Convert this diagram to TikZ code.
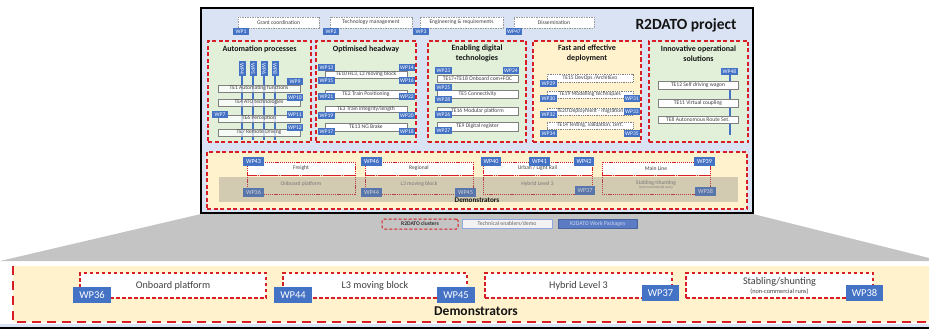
\documentclass[tikz,border=0pt]{standalone}
\usepackage{fontspec}
\setmainfont{Carlito}
\definecolor{mainblue}{RGB}{218,227,243}
\definecolor{cgreen}{RGB}{226,240,217}
\definecolor{cream}{RGB}{255,242,204}
\definecolor{dred}{RGB}{214,30,36}
\definecolor{wpblue}{RGB}{68,114,196}
\definecolor{tegray}{RGB}{127,127,127}
\definecolor{tetext}{RGB}{64,64,64}
\definecolor{bggray}{RGB}{196,196,196}
\definecolor{legfill}{RGB}{242,242,242}
\definecolor{legdraw}{RGB}{143,170,220}
\definecolor{legwp}{RGB}{91,124,196}
\definecolor{legwptext}{RGB}{200,213,238}
\definecolor{titletext}{RGB}{20,20,20}
\newcommand\mybx[7]{\node[#2, minimum width={(#5)-(#3)}, minimum height={(#6)-(#4)}] (#1) at ({((#3)+(#5))/2},{((#4)+(#6))/2}) {#7};}
\tikzset{
  mainbox/.style={fill=mainblue, draw=black, line width=1.6pt, inner sep=0pt},
  wp/.style={fill=wpblue, text=white, inner sep=0pt, font=\fontsize{5.6}{5.6}\selectfont},
  wpb/.style={wp, font=\fontsize{6.2}{6.2}\selectfont},
  wpl/.style={wp, font=\fontsize{10.5}{10.5}\selectfont},
  te/.style={fill=white, draw=tegray, line width=0.6pt, inner sep=0pt, text=tetext, font=\fontsize{5.6}{5.6}\selectfont},
  tetr/.style={te, fill opacity=0.75, text opacity=1},
  tedot/.style={te, dash pattern=on 1pt off 0.8pt},
  topwp/.style={te, draw=tegray!80, dash pattern=on 1.5pt off 1pt},
  cluster/.style={draw=dred, line width=1.3pt, dash pattern=on 4pt off 2.5pt, inner sep=0pt},
  ctitle/.style={font=\bfseries\fontsize{8}{9.5}\selectfont, align=center, text=titletext},
  bar/.style={draw=wpblue, line width=2pt},
  colw/.style={fill=white, draw=dred, line width=0.6pt, dash pattern=on 1.2pt off 0.9pt, inner sep=0pt, text=tetext, font=\fontsize{5.6}{5.6}\selectfont},
  colg/.style={colw, fill=none, text=black!55},
  low/.style={fill=white, draw=dred, line width=1.1pt, dash pattern=on 3.5pt off 2.5pt, inner sep=0pt, text=tetext, font=\fontsize{10.2}{10.2}\selectfont, align=center},
}
\begin{document}
\begin{tikzpicture}[x=1pt,y=-1pt]
\useasboundingbox (0,0) rectangle (929,329);
% grey zoom trapezoid
\path[fill=bggray] (201,214) -- (753,214) -- (929,258) -- (929,261) -- (0,261) -- cycle;
% main project box
\mybx{main}{mainbox}{201}{8}{753}{213}{}
\node[font=\bfseries\fontsize{15.5}{15.5}\selectfont, text=titletext] (title) at (686,25) {R2DATO project};
% top row work packages
\mybx{g1}{topwp}{238}{17}{319}{28}{Grant coordination}
\mybx{g2}{topwp}{330}{17}{412}{28}{Technology management}
\mybx{g3}{topwp}{420}{17}{503}{28}{Engineering \& requirements}
\mybx{g4}{topwp}{514}{17}{594}{28}{Dissemination}
\mybx{wp1}{wp}{233}{28}{249}{35}{WP1}
\mybx{wp2}{wp}{323}{28}{339}{35}{WP2}
\mybx{wp3}{wp}{413}{28}{429}{35}{WP3}
\mybx{wp47}{wp}{506}{28}{522}{35}{WP47}
% clusters
\mybx{c1}{cluster, fill=cgreen}{208}{41}{311}{142}{}
\mybx{c2}{cluster, fill=cgreen}{316}{41}{416}{142}{}
\mybx{c3}{cluster, fill=cgreen}{428}{41}{526}{142}{}
\mybx{c4}{cluster, fill=cream}{533}{41}{641}{142}{}
\mybx{c5}{cluster, fill=cgreen}{649}{41}{748}{142}{}
\node[ctitle] (t1) at (259.5,49) {Automation processes};
\node[ctitle] (t2) at (366,49) {Optimised headway};
\node[ctitle] (t3) at (477,53.5) {Enabling digital\\technologies};
\node[ctitle] (t4) at (587,53.5) {Fast and effective\\deployment};
\node[ctitle] (t5) at (698.5,53.5) {Innovative operational\\solutions};
% automation processes
\coordinate (abot) at (259,140);
\node[wp, rotate=-90, minimum width=15, minimum height=7] (wp4) at (242,68.5) {WP4};
\node[wp, rotate=-90, minimum width=15, minimum height=7] (wp5) at (253,68.5) {WP5};
\node[wp, rotate=-90, minimum width=15, minimum height=7] (wp6) at (264,68.5) {WP6};
\node[wp, rotate=-90, minimum width=15, minimum height=7] (wp8) at (275,68.5) {WP8};
\draw[bar] (wp4.east) -- (wp4.east |- abot);
\draw[bar] (wp5.east) -- (wp5.east |- abot);
\draw[bar] (wp6.east) -- (wp6.east |- abot);
\draw[bar] (wp8.east) -- (wp8.east |- abot);
\mybx{te1}{tetr}{218}{85}{300}{92}{TE1 Automating functions}
\mybx{te4}{tetr}{218}{99}{300}{106}{TE4 ATO technologies}
\mybx{te6}{tetr}{218}{115}{300}{122}{TE6 Perception}
\mybx{te7}{tetr}{218}{129}{300}{136}{TE7 Remote Driving}
\mybx{wp9}{wp}{287}{78}{303}{85}{WP9}
\mybx{wp10}{wp}{287}{94}{303}{101}{WP10}
\mybx{wp11}{wp}{287}{111}{303}{118}{WP11}
\mybx{wp12}{wp}{287}{124}{303}{131}{WP12}
\mybx{wp7}{wp}{212}{111}{228}{118}{WP7}
% optimised headway
\mybx{te10}{te}{325}{71}{407}{78}{TE10 HL3, L3 moving block}
\mybx{te2}{te}{325}{90}{407}{98}{TE2 Train Positioning}
\mybx{te3}{te}{325}{106}{407}{112}{TE3 Train integrity/length}
\mybx{te13}{te}{325}{123}{407}{131}{TE13 NG Brake}
\mybx{wp13}{wp}{318}{64}{335}{71}{WP13}
\mybx{wp14}{wp}{399}{64}{415}{71}{WP14}
\mybx{wp15}{wp}{318}{77}{335}{84}{WP15}
\mybx{wp16}{wp}{399}{77}{415}{84}{WP16}
\mybx{wp21}{wp}{318}{93}{335}{100}{WP21}
\mybx{wp22}{wp}{399}{93}{415}{100}{WP22}
\mybx{wp19}{wp}{318}{112}{335}{119}{WP19}
\mybx{wp20}{wp}{399}{112}{415}{119}{WP20}
\mybx{wp17}{wp}{318}{128}{335}{135}{WP17}
\mybx{wp18}{wp}{399}{128}{415}{135}{WP18}
% enabling digital technologies
\mybx{te17}{te}{437}{75}{518}{82}{TE17+TE18 Onboard com+FOC}
\mybx{te5}{te}{437}{90}{518}{98}{TE5 Connectivity}
\mybx{te16}{te}{437}{107}{518}{115}{TE16 Modular platform}
\mybx{te9}{te}{437}{122}{518}{131}{TE9 Digital register}
\mybx{wp23}{wp}{435}{67}{452}{74}{WP23}
\mybx{wp24}{wp}{503}{67}{519}{74}{WP24}
\mybx{wp25}{wp}{435}{84}{452}{91}{WP25}
\mybx{wp28}{wp}{435}{96}{452}{103}{WP28}
\mybx{wp26}{wp}{435}{111}{452}{118}{WP26}
\mybx{wp27}{wp}{435}{127}{452}{134}{WP27}
% fast and effective deployment
\mybx{te15}{tedot}{547}{74}{633}{82}{TE15 DevOps /ArchitEvo}
\mybx{te19}{tedot}{547}{91}{633}{98}{TE19 Modelling techniques}
\mybx{te20}{tedot}{547}{108}{633}{115}{TE20 Deployment - migration}
\mybx{te14}{tedot}{547}{122}{633}{129}{TE14 Testing, validation, cert.}
\mybx{wp29}{wp}{540}{80}{557}{87}{WP29}
\mybx{wp30}{wp}{540}{95}{557}{102}{WP30}
\mybx{wp31}{wp}{624}{95}{640}{102}{WP31}
\mybx{wp32}{wp}{540}{111}{557}{118}{WP32}
\mybx{wp33}{wp}{624}{108}{640}{115}{WP33}
\mybx{wp34}{wp}{540}{130}{557}{137}{WP34}
\mybx{wp35}{wp}{624}{130}{640}{137}{WP35}
% innovative operational solutions
\coordinate (ibot) at (729,135);
\mybx{wp48}{wp}{721}{68}{738}{75}{WP48}
\draw[bar] (wp48.south) -- (wp48.south |- ibot);
\mybx{te12}{te}{658}{81}{738}{89}{TE12 Self driving wagon}
\mybx{te11}{te}{658}{99}{738}{107}{TE11 Virtual coupling}
\mybx{te8}{te}{658}{116}{738}{123}{TE8 Autonomous Route Set.}
% demonstrators (upper)
\mybx{demo}{cluster, fill=cream}{207}{152}{747}{209}{}
\mybx{fr}{colw}{247}{162}{355}{175}{Freight}
\mybx{rg}{colw}{365}{162}{473}{175}{Regional}
\mybx{ur}{colw}{483}{162}{592}{175}{Urban / Light Rail}
\mybx{ml}{colw}{602}{162}{710}{175}{Main Line}
\mybx{ob}{colg}{247}{175}{355}{194}{Onboard platform}
\mybx{l3}{colg}{365}{175}{473}{194}{L3 moving block}
\mybx{hy}{colg}{483}{175}{592}{194}{Hybrid Level 3}
\mybx{st}{colg, align=center}{602}{175}{710}{194}{Stabling/shunting\\[-1.5pt]{\fontsize{3.6}{3.6}\selectfont(non-commercial runs)}}
\mybx{wp36}{wpb}{243}{188}{264}{197}{WP36}
\mybx{wp44}{wpb}{361}{188}{382}{197}{WP44}
\mybx{wp45}{wpb}{455}{188}{476}{197}{WP45}
\mybx{wp37}{wpb}{575}{186}{595}{195}{WP37}
\mybx{wp38}{wpb}{695}{187}{716}{196}{WP38}
\mybx{band}{fill=gray, fill opacity=0.35, inner sep=0pt}{219}{177}{738}{202}{}
\mybx{wp43}{wpb}{243}{157}{264}{166}{WP43}
\mybx{wp46}{wpb}{361}{157}{382}{166}{WP46}
\mybx{wp40}{wpb}{481}{157}{501}{166}{WP40}
\mybx{wp41}{wpb}{529}{157}{550}{166}{WP41}
\mybx{wp42}{wpb}{574}{157}{594}{166}{WP42}
\mybx{wp39}{wpb}{694}{157}{715}{166}{WP39}
\node[font=\bfseries\fontsize{7.2}{7.2}\selectfont, text=titletext] (dtitle) at (477,200.5) {Demonstrators};
% legend
\mybx{leg1}{draw=dred, line width=1pt, dash pattern=on 3pt off 2pt, rounded corners=1.5pt, inner sep=0pt, font=\bfseries\fontsize{5.6}{5.6}\selectfont, text=black!80}{382}{219}{458}{229}{R2DATO clusters}
\mybx{leg2}{fill=legfill, draw=legdraw, line width=0.6pt, inner sep=0pt, font=\fontsize{5.8}{5.8}\selectfont, text=black!60}{462}{219}{552}{228}{Technical enablers/demo}
\mybx{leg3}{fill=legwp, draw=legwp!80!black, line width=0.4pt, inner sep=0pt, font=\fontsize{5.8}{5.8}\selectfont, text=legwptext}{558}{219}{637}{228}{R2DATO Work Packages}
% lower zoomed demonstrators
\path[fill=cream] (13,266) rectangle (929,322);
\coordinate (ztl) at (13,266);
\coordinate (zbl) at (13,322);
\coordinate (zbr) at (929,322);
\draw[dred, line width=2.4pt, dash pattern=on 9pt off 6pt] (ztl) -- (zbl) -- (zbr);
\path[fill=mainblue] (0,324) rectangle (929,327);
\draw[black, line width=1.6pt] (0,328.2) -- (929,328.2);
\mybx{zob}{low}{80}{273}{266}{298}{Onboard platform}
\mybx{zl3}{low}{283}{273}{467}{298}{L3 moving block}
\mybx{zhy}{low}{485}{273}{672}{298}{Hybrid Level 3}
\mybx{zst}{low}{686}{273}{873}{298}{Stabling/shunting\\[-1pt]{\fontsize{6.3}{6.3}\selectfont(non-commercial runs)}}
\mybx{zwp36}{wpl}{73}{287}{111}{303}{WP36}
\mybx{zwp44}{wpl}{274}{287}{312}{303}{WP44}
\mybx{zwp45}{wpl}{437}{287}{475}{303}{WP45}
\mybx{zwp37}{wpl}{642}{285}{679}{301}{WP37}
\mybx{zwp38}{wpl}{846}{285}{883}{301}{WP38}
\node[font=\bfseries\fontsize{13.5}{13.5}\selectfont, text=titletext] (ztitle) at (476,311) {Demonstrators};
\end{tikzpicture}
\end{document}
